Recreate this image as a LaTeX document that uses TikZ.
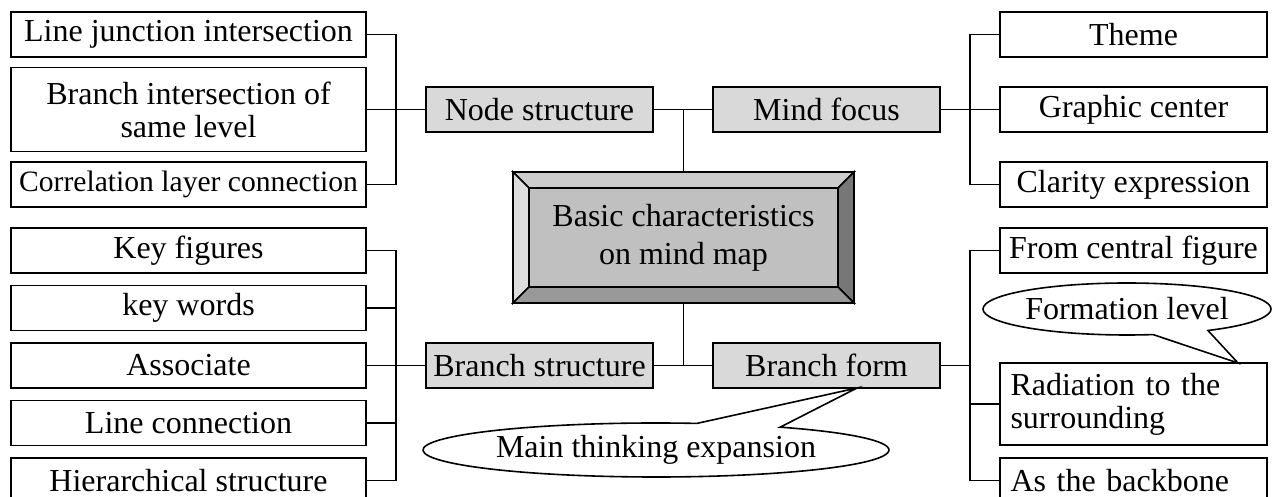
\documentclass[tikz,border=0pt]{standalone}
\usepackage{fontspec}
\setmainfont{Liberation Serif}
\usepackage{tikz}
\usetikzlibrary{shapes}

\definecolor{hubgray}{HTML}{D9D9D9}
\definecolor{bevtop}{HTML}{CCCCCC}
\definecolor{bevleft}{HTML}{DDDDDD}
\definecolor{bevright}{HTML}{777777}
\definecolor{bevbottom}{HTML}{999999}
\definecolor{corefill}{HTML}{C0C0C0}

\tikzset{
  leaf/.style={draw, fill=white, line width=0.7pt, inner sep=0pt, minimum width=177.5pt, minimum height=22.5pt, align=center},
  leafr/.style={leaf, minimum width=133.5pt},
  leafl/.style={leafr, text width=123pt, align=left},
  hub/.style={draw, fill=hubgray, line width=0.7pt, inner sep=0pt, minimum width=113.5pt, minimum height=22.5pt},
  link/.style={line width=0.8pt},
}

\begin{document}
\begin{tikzpicture}[x=0.5pt, y=0.5pt, font=\fontsize{16}{16.5}\selectfont]
    \useasboundingbox (0,0) rectangle (1272,497);
    \clip (0,0) rectangle (1272,497);

    % centre block with bevel
    \filldraw[link, fill=bevtop] (513,325) -- (854,325) -- (838,309) -- (529,309) -- cycle;
    \filldraw[link, fill=bevleft] (513,325) -- (529,309) -- (529,210) -- (513,194) -- cycle;
    \filldraw[link, fill=bevright] (854,325) -- (838,309) -- (838,210) -- (854,194) -- cycle;
    \filldraw[link, fill=bevbottom] (513,194) -- (529,210) -- (838,210) -- (854,194) -- cycle;
    \filldraw[link, fill=corefill] (529,309) rectangle (838,210);
    \node[inner sep=0pt, minimum width=170.5pt, minimum height=65.5pt, align=center, font=\fontsize{16}{19}\selectfont] (core) at (683.5,259.5) {Basic characteristics\\on mind map};

    % second level
    \node[hub] (ns) at (539.5,387.5) {Node structure};
    \node[hub] (mf) at (826.5,387.5) {Mind focus};
    \node[hub] (bs) at (539.5,131.5) {Branch structure};
    \node[hub] (bf) at (826.5,131.5) {Branch form};

    % left side
    \node[leaf] (lji) at (188.5,462.5) {Line junction intersection};
    \node[leaf, minimum height=42pt] (bisl) at (188.5,387.5) {Branch intersection of\\same level};
    \node[leaf, font=\fontsize{14.8}{16.5}\selectfont] (clc) at (188.5,312.5) {Correlation layer connection};
    \node[leaf] (kf) at (188.5,246.5) {Key figures};
    \node[leaf] (kw) at (188.5,189) {key words};
    \node[leaf] (asc) at (188.5,131.5) {Associate};
    \node[leaf] (lc) at (188.5,74) {Line connection};
    \node[leaf] (hs) at (188.5,16.5) {Hierarchical structure};

    % right side
    \node[leafr] (theme) at (1133.5,462.5) {Theme};
    \node[leafr] (gc) at (1133.5,387.5) {Graphic center};
    \node[leafr] (clar) at (1133.5,312.5) {Clarity expression};
    \node[leafr] (fcf) at (1133.5,246.5) {From central figure};
    \node[leafl, minimum height=41pt] (rad) at (1133.5,93) {Radiation to the\\surrounding};
    \node[leafl] (back) at (1133.5,16.5) {As the backbone};

    \coordinate (jtl) at (396,387.5);
    \coordinate (jtr) at (970,387.5);
    \coordinate (jbl) at (396,131.5);
    \coordinate (jbr) at (970,131.5);

    \draw[link] (core.north) -- (core.north |- ns.east);
    \draw[link] (core.south) -- (core.south |- bs.east);
    \draw[link] (ns.east) -- (mf.west);
    \draw[link] (bs.east) -- (bf.west);

    \draw[link] (lji.east) -| (jtl) |- (clc.east);
    \draw[link] (bisl.east) -- (ns.west);
    \draw[link] (theme.west) -| (jtr) |- (clar.west);
    \draw[link] (mf.east) -- (gc.west);

    \draw[link] (kf.east) -| (jbl) |- (hs.east);
    \draw[link] (kw.east) -- (kw.east -| jbl);
    \draw[link] (lc.east) -- (lc.east -| jbl);
    \draw[link] (asc.east) -- (bs.west);

    \draw[link] (fcf.west) -| (jbr) |- (back.west);
    \draw[link] (rad.west) -- (rad.west -| jbr);
    \draw[link] (bf.east) -- (jbr);

    % callouts
    \coordinate (mtec) at (656,47);
    \coordinate (mtetip) at (857,109);
    \draw[link, fill=white] ([shift={(79.9:233 and 27)}]mtec) arc[start angle=79.9, end angle=417.8, x radius=233, y radius=27] -- (mtetip) -- cycle;
    \node (mte) at (mtec) {Main thinking expansion};

    \coordinate (flc) at (1127,188);
    \coordinate (fltip) at (1238,134);
    \draw[link, fill=white] ([shift={(-55.8:144 and 26)}]flc) arc[start angle=-55.8, end angle=280.4, x radius=144, y radius=26] -- (fltip) -- cycle;
    \node (fl) at (flc) {Formation level};
\end{tikzpicture}
\end{document}
